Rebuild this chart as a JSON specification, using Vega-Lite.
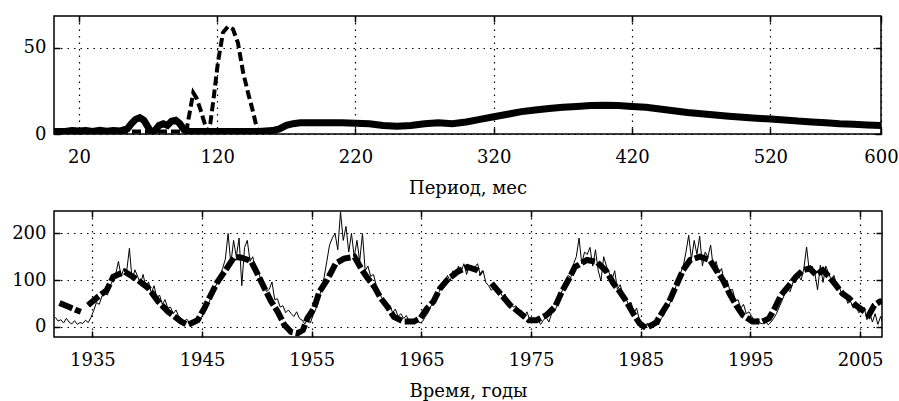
{
  "$schema": "https://vega.github.io/schema/vega-lite/v6.json",
  "background": "white",
  "padding": {"left": 10, "top": 14, "right": 10, "bottom": 5},
  "spacing": 11,
  "datasets": {
    "spec_solid": [
      {"p": 2, "v": 1.5}, {"p": 10, "v": 1.5}, {"p": 15, "v": 2}, {"p": 20, "v": 1.8}, {"p": 25, "v": 2}, {"p": 30, "v": 1.5}, {"p": 35, "v": 2.2}, {"p": 40, "v": 1.6}, {"p": 45, "v": 2}, {"p": 50, "v": 1.8}, {"p": 55, "v": 3}, {"p": 58, "v": 6}, {"p": 61, "v": 8.5}, {"p": 64, "v": 9.5}, {"p": 67, "v": 8}, {"p": 70, "v": 4}, {"p": 72, "v": 1.5}, {"p": 75, "v": 2}, {"p": 78, "v": 5}, {"p": 81, "v": 6}, {"p": 84, "v": 5}, {"p": 87, "v": 7.5}, {"p": 90, "v": 8}, {"p": 93, "v": 6}, {"p": 96, "v": 2.5}, {"p": 100, "v": 1.5}, {"p": 110, "v": 1.5}, {"p": 120, "v": 1.5}, {"p": 130, "v": 1.5}, {"p": 140, "v": 1.5}, {"p": 150, "v": 1.5}, {"p": 160, "v": 2}, {"p": 165, "v": 3}, {"p": 170, "v": 5}, {"p": 175, "v": 6}, {"p": 180, "v": 6.5}, {"p": 190, "v": 6.5}, {"p": 200, "v": 6.5}, {"p": 210, "v": 6.5}, {"p": 220, "v": 6.3}, {"p": 230, "v": 6}, {"p": 240, "v": 5}, {"p": 250, "v": 4.5}, {"p": 260, "v": 5}, {"p": 270, "v": 6}, {"p": 280, "v": 6.5}, {"p": 290, "v": 6}, {"p": 300, "v": 7}, {"p": 310, "v": 8.5}, {"p": 320, "v": 10}, {"p": 330, "v": 11.5}, {"p": 340, "v": 13}, {"p": 350, "v": 14}, {"p": 360, "v": 14.8}, {"p": 370, "v": 15.5}, {"p": 380, "v": 16}, {"p": 390, "v": 16.5}, {"p": 400, "v": 16.7}, {"p": 410, "v": 16.5}, {"p": 420, "v": 16}, {"p": 430, "v": 15.5}, {"p": 440, "v": 14.5}, {"p": 450, "v": 13.5}, {"p": 460, "v": 12.5}, {"p": 470, "v": 11.8}, {"p": 480, "v": 11}, {"p": 490, "v": 10.3}, {"p": 500, "v": 9.7}, {"p": 510, "v": 9.2}, {"p": 520, "v": 8.7}, {"p": 530, "v": 8.2}, {"p": 540, "v": 7.5}, {"p": 550, "v": 7}, {"p": 560, "v": 6.5}, {"p": 570, "v": 6}, {"p": 580, "v": 5.7}, {"p": 590, "v": 5.3}, {"p": 600, "v": 5}
    ],
    "spec_dash": [
      {"p": 2, "v": 1}, {"p": 20, "v": 1}, {"p": 40, "v": 1}, {"p": 60, "v": 1.5}, {"p": 80, "v": 1.5}, {"p": 95, "v": 1.5}, {"p": 98, "v": 3}, {"p": 100, "v": 12}, {"p": 102.7, "v": 24}, {"p": 105, "v": 21}, {"p": 108, "v": 14}, {"p": 111, "v": 6}, {"p": 113, "v": 1}, {"p": 115, "v": 6}, {"p": 117, "v": 18}, {"p": 120.6, "v": 42}, {"p": 124.2, "v": 59}, {"p": 127.8, "v": 62.5}, {"p": 131.4, "v": 61}, {"p": 135, "v": 53}, {"p": 138.7, "v": 36}, {"p": 142.3, "v": 24}, {"p": 145.9, "v": 13}, {"p": 148.8, "v": 3}, {"p": 151, "v": 1}, {"p": 160, "v": 0.5}
    ],
    "ts_thin": [
      {"t": 1931.625, "v": 20}, {"t": 1931.875, "v": 12},
      {"t": 1932.125, "v": 15}, {"t": 1932.375, "v": 8}, {"t": 1932.625, "v": 18}, {"t": 1932.875, "v": 10},
      {"t": 1933.125, "v": 6}, {"t": 1933.375, "v": 13}, {"t": 1933.625, "v": 5}, {"t": 1933.875, "v": 9},
      {"t": 1934.125, "v": 7}, {"t": 1934.375, "v": 14}, {"t": 1934.625, "v": 9}, {"t": 1934.875, "v": 20},
      {"t": 1935.125, "v": 35}, {"t": 1935.375, "v": 52}, {"t": 1935.625, "v": 48}, {"t": 1935.875, "v": 66},
      {"t": 1936.125, "v": 72}, {"t": 1936.375, "v": 68}, {"t": 1936.625, "v": 88}, {"t": 1936.875, "v": 100},
      {"t": 1937.125, "v": 112}, {"t": 1937.375, "v": 140}, {"t": 1937.625, "v": 108}, {"t": 1937.875, "v": 125},
      {"t": 1938.125, "v": 118}, {"t": 1938.375, "v": 168}, {"t": 1938.625, "v": 100}, {"t": 1938.875, "v": 122},
      {"t": 1939.125, "v": 108}, {"t": 1939.375, "v": 92}, {"t": 1939.625, "v": 112}, {"t": 1939.875, "v": 85},
      {"t": 1940.125, "v": 96}, {"t": 1940.375, "v": 72}, {"t": 1940.625, "v": 88}, {"t": 1940.875, "v": 62},
      {"t": 1941.125, "v": 68}, {"t": 1941.375, "v": 48}, {"t": 1941.625, "v": 58}, {"t": 1941.875, "v": 40},
      {"t": 1942.125, "v": 42}, {"t": 1942.375, "v": 28}, {"t": 1942.625, "v": 36}, {"t": 1942.875, "v": 22},
      {"t": 1943.125, "v": 18}, {"t": 1943.375, "v": 12}, {"t": 1943.625, "v": 16}, {"t": 1943.875, "v": 8},
      {"t": 1944.125, "v": 6}, {"t": 1944.375, "v": 12}, {"t": 1944.625, "v": 9}, {"t": 1944.875, "v": 18},
      {"t": 1945.125, "v": 28}, {"t": 1945.375, "v": 40}, {"t": 1945.625, "v": 52}, {"t": 1945.875, "v": 66},
      {"t": 1946.125, "v": 80}, {"t": 1946.375, "v": 95}, {"t": 1946.625, "v": 108}, {"t": 1946.875, "v": 125},
      {"t": 1947.125, "v": 145}, {"t": 1947.375, "v": 200}, {"t": 1947.625, "v": 135}, {"t": 1947.875, "v": 185},
      {"t": 1948.125, "v": 150}, {"t": 1948.375, "v": 190}, {"t": 1948.625, "v": 88}, {"t": 1948.875, "v": 170},
      {"t": 1949.125, "v": 185}, {"t": 1949.375, "v": 140}, {"t": 1949.625, "v": 150}, {"t": 1949.875, "v": 120},
      {"t": 1950.125, "v": 118}, {"t": 1950.375, "v": 100}, {"t": 1950.625, "v": 90}, {"t": 1950.875, "v": 75},
      {"t": 1951.125, "v": 80}, {"t": 1951.375, "v": 96}, {"t": 1951.625, "v": 58}, {"t": 1951.875, "v": 60},
      {"t": 1952.125, "v": 42}, {"t": 1952.375, "v": 45}, {"t": 1952.625, "v": 30}, {"t": 1952.875, "v": 36},
      {"t": 1953.125, "v": 28}, {"t": 1953.375, "v": 22}, {"t": 1953.625, "v": 32}, {"t": 1953.875, "v": 18},
      {"t": 1954.125, "v": 14}, {"t": 1954.375, "v": 6}, {"t": 1954.625, "v": 16}, {"t": 1954.875, "v": 8},
      {"t": 1955.125, "v": 25}, {"t": 1955.375, "v": 38}, {"t": 1955.625, "v": 60}, {"t": 1955.875, "v": 80},
      {"t": 1956.125, "v": 105}, {"t": 1956.375, "v": 140}, {"t": 1956.625, "v": 175}, {"t": 1956.875, "v": 190},
      {"t": 1957.125, "v": 200}, {"t": 1957.375, "v": 165}, {"t": 1957.625, "v": 246}, {"t": 1957.875, "v": 185},
      {"t": 1958.125, "v": 215}, {"t": 1958.375, "v": 160}, {"t": 1958.625, "v": 200}, {"t": 1958.875, "v": 150},
      {"t": 1959.125, "v": 185}, {"t": 1959.375, "v": 140}, {"t": 1959.625, "v": 200}, {"t": 1959.875, "v": 120},
      {"t": 1960.125, "v": 130}, {"t": 1960.375, "v": 108}, {"t": 1960.625, "v": 112}, {"t": 1960.875, "v": 90},
      {"t": 1961.125, "v": 75}, {"t": 1961.375, "v": 62}, {"t": 1961.625, "v": 55}, {"t": 1961.875, "v": 42},
      {"t": 1962.125, "v": 46}, {"t": 1962.375, "v": 30}, {"t": 1962.625, "v": 38}, {"t": 1962.875, "v": 22},
      {"t": 1963.125, "v": 28}, {"t": 1963.375, "v": 18}, {"t": 1963.625, "v": 24}, {"t": 1963.875, "v": 12},
      {"t": 1964.125, "v": 10}, {"t": 1964.375, "v": 6}, {"t": 1964.625, "v": 14}, {"t": 1964.875, "v": 8},
      {"t": 1965.125, "v": 12}, {"t": 1965.375, "v": 22}, {"t": 1965.625, "v": 30}, {"t": 1965.875, "v": 45},
      {"t": 1966.125, "v": 50}, {"t": 1966.375, "v": 62}, {"t": 1966.625, "v": 75}, {"t": 1966.875, "v": 90},
      {"t": 1967.125, "v": 88}, {"t": 1967.375, "v": 110}, {"t": 1967.625, "v": 98}, {"t": 1967.875, "v": 120},
      {"t": 1968.125, "v": 108}, {"t": 1968.375, "v": 130}, {"t": 1968.625, "v": 118}, {"t": 1968.875, "v": 135},
      {"t": 1969.125, "v": 112}, {"t": 1969.375, "v": 132}, {"t": 1969.625, "v": 120}, {"t": 1969.875, "v": 128},
      {"t": 1970.125, "v": 135}, {"t": 1970.375, "v": 110}, {"t": 1970.625, "v": 120}, {"t": 1970.875, "v": 95},
      {"t": 1971.125, "v": 88}, {"t": 1971.375, "v": 78}, {"t": 1971.625, "v": 85}, {"t": 1971.875, "v": 72},
      {"t": 1972.125, "v": 80}, {"t": 1972.375, "v": 65}, {"t": 1972.625, "v": 70}, {"t": 1972.875, "v": 55},
      {"t": 1973.125, "v": 50}, {"t": 1973.375, "v": 42}, {"t": 1973.625, "v": 45}, {"t": 1973.875, "v": 30},
      {"t": 1974.125, "v": 35}, {"t": 1974.375, "v": 22}, {"t": 1974.625, "v": 32}, {"t": 1974.875, "v": 15},
      {"t": 1975.125, "v": 18}, {"t": 1975.375, "v": 8}, {"t": 1975.625, "v": 15}, {"t": 1975.875, "v": 5},
      {"t": 1976.125, "v": 14}, {"t": 1976.375, "v": 20}, {"t": 1976.625, "v": 10}, {"t": 1976.875, "v": 28},
      {"t": 1977.125, "v": 32}, {"t": 1977.375, "v": 45}, {"t": 1977.625, "v": 62}, {"t": 1977.875, "v": 80},
      {"t": 1978.125, "v": 90}, {"t": 1978.375, "v": 110}, {"t": 1978.625, "v": 105}, {"t": 1978.875, "v": 135},
      {"t": 1979.125, "v": 150}, {"t": 1979.375, "v": 190}, {"t": 1979.625, "v": 135}, {"t": 1979.875, "v": 160},
      {"t": 1980.125, "v": 155}, {"t": 1980.375, "v": 170}, {"t": 1980.625, "v": 130}, {"t": 1980.875, "v": 165},
      {"t": 1981.125, "v": 120}, {"t": 1981.375, "v": 98}, {"t": 1981.625, "v": 150}, {"t": 1981.875, "v": 130},
      {"t": 1982.125, "v": 115}, {"t": 1982.375, "v": 100}, {"t": 1982.625, "v": 120}, {"t": 1982.875, "v": 80},
      {"t": 1983.125, "v": 90}, {"t": 1983.375, "v": 70}, {"t": 1983.625, "v": 62}, {"t": 1983.875, "v": 48},
      {"t": 1984.125, "v": 52}, {"t": 1984.375, "v": 30}, {"t": 1984.625, "v": 40}, {"t": 1984.875, "v": 15},
      {"t": 1985.125, "v": 10}, {"t": 1985.375, "v": 2}, {"t": 1985.625, "v": 8}, {"t": 1985.875, "v": -2},
      {"t": 1986.125, "v": 5}, {"t": 1986.375, "v": 12}, {"t": 1986.625, "v": 4}, {"t": 1986.875, "v": 18},
      {"t": 1987.125, "v": 25}, {"t": 1987.375, "v": 40}, {"t": 1987.625, "v": 48}, {"t": 1987.875, "v": 65},
      {"t": 1988.125, "v": 80}, {"t": 1988.375, "v": 100}, {"t": 1988.625, "v": 115}, {"t": 1988.875, "v": 130},
      {"t": 1989.125, "v": 160}, {"t": 1989.375, "v": 196}, {"t": 1989.625, "v": 145}, {"t": 1989.875, "v": 185},
      {"t": 1990.125, "v": 155}, {"t": 1990.375, "v": 194}, {"t": 1990.625, "v": 130}, {"t": 1990.875, "v": 160},
      {"t": 1991.125, "v": 150}, {"t": 1991.375, "v": 175}, {"t": 1991.625, "v": 125}, {"t": 1991.875, "v": 140},
      {"t": 1992.125, "v": 115}, {"t": 1992.375, "v": 125}, {"t": 1992.625, "v": 95}, {"t": 1992.875, "v": 100},
      {"t": 1993.125, "v": 78}, {"t": 1993.375, "v": 80}, {"t": 1993.625, "v": 55}, {"t": 1993.875, "v": 58},
      {"t": 1994.125, "v": 40}, {"t": 1994.375, "v": 48}, {"t": 1994.625, "v": 28}, {"t": 1994.875, "v": 32},
      {"t": 1995.125, "v": 22}, {"t": 1995.375, "v": 12}, {"t": 1995.625, "v": 18}, {"t": 1995.875, "v": 8},
      {"t": 1996.125, "v": 6}, {"t": 1996.375, "v": 12}, {"t": 1996.625, "v": 4}, {"t": 1996.875, "v": 10},
      {"t": 1997.125, "v": 18}, {"t": 1997.375, "v": 28}, {"t": 1997.625, "v": 42}, {"t": 1997.875, "v": 55},
      {"t": 1998.125, "v": 70}, {"t": 1998.375, "v": 80}, {"t": 1998.625, "v": 75}, {"t": 1998.875, "v": 95},
      {"t": 1999.125, "v": 95}, {"t": 1999.375, "v": 110}, {"t": 1999.625, "v": 100}, {"t": 1999.875, "v": 125},
      {"t": 2000.125, "v": 171}, {"t": 2000.375, "v": 118}, {"t": 2000.625, "v": 130}, {"t": 2000.875, "v": 115},
      {"t": 2001.125, "v": 79}, {"t": 2001.375, "v": 132}, {"t": 2001.625, "v": 95}, {"t": 2001.875, "v": 130},
      {"t": 2002.125, "v": 115}, {"t": 2002.375, "v": 100}, {"t": 2002.625, "v": 110}, {"t": 2002.875, "v": 88},
      {"t": 2003.125, "v": 85}, {"t": 2003.375, "v": 65}, {"t": 2003.625, "v": 72}, {"t": 2003.875, "v": 50},
      {"t": 2004.125, "v": 55}, {"t": 2004.375, "v": 40}, {"t": 2004.625, "v": 45}, {"t": 2004.875, "v": 30},
      {"t": 2005.125, "v": 35}, {"t": 2005.375, "v": 42}, {"t": 2005.625, "v": 15}, {"t": 2005.875, "v": 30},
      {"t": 2006.125, "v": 10}, {"t": 2006.375, "v": 28}, {"t": 2006.625, "v": 5}, {"t": 2006.875, "v": 22},
      {"t": 2007.0, "v": 12}
    ],
    "ts_dash": [
      {"t": 1932.0, "v": 51, "s": 1}, {"t": 1932.5, "v": 46, "s": 1}, {"t": 1933.0, "v": 41, "s": 1}, {"t": 1933.5, "v": 36, "s": 1}, {"t": 1933.95, "v": 32, "s": 1},
      {"t": 1934.6, "v": 46, "s": 2}, {"t": 1935.5, "v": 64, "s": 2}, {"t": 1936.3, "v": 78, "s": 2}, {"t": 1936.9, "v": 107, "s": 2}, {"t": 1937.95, "v": 118, "s": 2}, {"t": 1938.9, "v": 104, "s": 2}, {"t": 1940.1, "v": 83, "s": 2}, {"t": 1941.0, "v": 54, "s": 2}, {"t": 1941.9, "v": 32, "s": 2}, {"t": 1943.1, "v": 11, "s": 2}, {"t": 1943.7, "v": 4, "s": 2}, {"t": 1944.6, "v": 14, "s": 2}, {"t": 1945.2, "v": 39, "s": 2}, {"t": 1945.8, "v": 68, "s": 2}, {"t": 1946.4, "v": 96, "s": 2}, {"t": 1947.05, "v": 118, "s": 2}, {"t": 1947.95, "v": 150, "s": 2}, {"t": 1948.6, "v": 148, "s": 2}, {"t": 1949.2, "v": 143, "s": 2}, {"t": 1949.5, "v": 139, "s": 2}, {"t": 1950.1, "v": 111, "s": 2}, {"t": 1950.7, "v": 82, "s": 2}, {"t": 1951.3, "v": 54, "s": 2}, {"t": 1951.9, "v": 32, "s": 2}, {"t": 1952.5, "v": 4, "s": 2}, {"t": 1953.1, "v": -11, "s": 2}, {"t": 1953.7, "v": -14, "s": 2}, {"t": 1954.2, "v": -7, "s": 2}, {"t": 1954.6, "v": 18, "s": 2}, {"t": 1955.2, "v": 39, "s": 2}, {"t": 1955.7, "v": 75, "s": 2}, {"t": 1956.4, "v": 100, "s": 2}, {"t": 1957.2, "v": 136, "s": 2}, {"t": 1957.95, "v": 146, "s": 2}, {"t": 1958.9, "v": 150, "s": 2}, {"t": 1959.6, "v": 121, "s": 2}, {"t": 1960.1, "v": 104, "s": 2}, {"t": 1960.7, "v": 86, "s": 2}, {"t": 1961.3, "v": 61, "s": 2}, {"t": 1961.9, "v": 43, "s": 2}, {"t": 1962.5, "v": 21, "s": 2}, {"t": 1963.4, "v": 11, "s": 2}, {"t": 1964.3, "v": 11, "s": 2}, {"t": 1964.9, "v": 18, "s": 2}, {"t": 1965.5, "v": 39, "s": 2}, {"t": 1966.1, "v": 54, "s": 2}, {"t": 1966.7, "v": 82, "s": 2}, {"t": 1967.35, "v": 100, "s": 2}, {"t": 1968.3, "v": 118, "s": 2}, {"t": 1969.2, "v": 128, "s": 2}, {"t": 1970.1, "v": 121, "s": 2}, {"t": 1970.5, "v": 114, "s": 2},
      {"t": 1971.4, "v": 93, "s": 3}, {"t": 1972.2, "v": 71, "s": 3}, {"t": 1973.1, "v": 46, "s": 3}, {"t": 1974.0, "v": 29, "s": 3}, {"t": 1974.8, "v": 14, "s": 3}, {"t": 1975.5, "v": 14, "s": 3}, {"t": 1976.4, "v": 25, "s": 3}, {"t": 1977.2, "v": 43, "s": 3}, {"t": 1977.8, "v": 75, "s": 3}, {"t": 1978.4, "v": 100, "s": 3}, {"t": 1979.0, "v": 128, "s": 3}, {"t": 1980.1, "v": 143, "s": 3}, {"t": 1981.0, "v": 139, "s": 3}, {"t": 1981.9, "v": 118, "s": 3}, {"t": 1982.5, "v": 93, "s": 3}, {"t": 1983.1, "v": 75, "s": 3}, {"t": 1983.7, "v": 54, "s": 3}, {"t": 1984.3, "v": 29, "s": 3}, {"t": 1984.9, "v": 7, "s": 3}, {"t": 1985.5, "v": -3, "s": 3}, {"t": 1986.4, "v": 9, "s": 3}, {"t": 1987.0, "v": 32, "s": 3}, {"t": 1987.6, "v": 54, "s": 3}, {"t": 1988.25, "v": 89, "s": 3}, {"t": 1988.85, "v": 121, "s": 3}, {"t": 1989.5, "v": 143, "s": 3}, {"t": 1990.4, "v": 150, "s": 3}, {"t": 1991.3, "v": 143, "s": 3}, {"t": 1991.9, "v": 121, "s": 3}, {"t": 1992.5, "v": 100, "s": 3}, {"t": 1993.1, "v": 71, "s": 3}, {"t": 1993.7, "v": 46, "s": 3}, {"t": 1994.3, "v": 25, "s": 3}, {"t": 1995.2, "v": 11, "s": 3}, {"t": 1996.1, "v": 11, "s": 3}, {"t": 1996.7, "v": 18, "s": 3}, {"t": 1997.2, "v": 39, "s": 3}, {"t": 1997.8, "v": 68, "s": 3}, {"t": 1998.55, "v": 89, "s": 3}, {"t": 1999.15, "v": 107, "s": 3}, {"t": 1999.8, "v": 121, "s": 3}, {"t": 2000.4, "v": 125, "s": 3}, {"t": 2001.0, "v": 111, "s": 3}, {"t": 2001.6, "v": 121, "s": 3}, {"t": 2002.2, "v": 107, "s": 3}, {"t": 2002.8, "v": 89, "s": 3}, {"t": 2003.4, "v": 71, "s": 3}, {"t": 2004.0, "v": 61, "s": 3}, {"t": 2004.6, "v": 46, "s": 3}, {"t": 2005.2, "v": 36, "s": 3}, {"t": 2005.8, "v": 25, "s": 3}, {"t": 2006.3, "v": 46, "s": 3}, {"t": 2006.8, "v": 54, "s": 3}, {"t": 2007.0, "v": 55, "s": 3}
    ]
  },
  "vconcat": [
    {
      "width": 827,
      "height": 118,
      "layer": [
        {
          "data": {"name": "spec_solid"},
          "mark": {"type": "line", "color": "black", "strokeWidth": 7, "strokeCap": "butt", "clip": true},
          "encoding": {
            "x": {"field": "p", "type": "quantitative", "scale": {"domain": [2, 600], "nice": false, "zero": false},
                  "axis": {"orient": "bottom", "values": [20, 120, 220, 320, 420, 520, 600], "title": "Период, мес", "grid": true, "labelFlush": false}},
            "y": {"field": "v", "type": "quantitative", "scale": {"domain": [0, 68.6], "nice": false},
                  "axis": {"orient": "left", "values": [0, 50], "title": null, "grid": true}}
          }
        },
        {
          "data": {"name": "spec_dash"},
          "mark": {"type": "line", "color": "black", "strokeWidth": 4, "strokeDash": [9, 4], "clip": true},
          "encoding": {
            "x": {"field": "p", "type": "quantitative",
                  "axis": {"orient": "top", "values": [20, 120, 220, 320, 420, 520, 600], "title": null, "labels": false, "grid": false}},
            "y": {"field": "v", "type": "quantitative",
                  "axis": {"orient": "right", "values": [0, 50], "title": null, "labels": false, "grid": false}}
          }
        }
      ],
      "resolve": {"axis": {"x": "independent", "y": "independent"}}
    },
    {
      "width": 828,
      "height": 126,
      "layer": [
        {
          "data": {"name": "ts_thin"},
          "mark": {"type": "line", "color": "black", "strokeWidth": 1, "clip": true},
          "encoding": {
            "x": {"field": "t", "type": "quantitative", "scale": {"domain": [1931.5, 2007], "nice": false, "zero": false},
                  "axis": {"orient": "bottom", "values": [1935, 1945, 1955, 1965, 1975, 1985, 1995, 2005], "format": "d", "title": "Время, годы", "grid": true, "labelFlush": false}},
            "y": {"field": "v", "type": "quantitative", "scale": {"domain": [-22, 248], "nice": false, "zero": false},
                  "axis": {"orient": "left", "values": [0, 100, 200], "title": null, "grid": true}}
          }
        },
        {
          "data": {"name": "ts_dash"},
          "mark": {"type": "line", "color": "black", "strokeWidth": 6, "strokeDash": [14, 3], "clip": true},
          "encoding": {
            "x": {"field": "t", "type": "quantitative",
                  "axis": {"orient": "top", "values": [1935, 1945, 1955, 1965, 1975, 1985, 1995, 2005], "title": null, "labels": false, "grid": false}},
            "y": {"field": "v", "type": "quantitative",
                  "axis": {"orient": "right", "values": [0, 100, 200], "title": null, "labels": false, "grid": false}},
            "detail": {"field": "s", "type": "nominal"}
          }
        }
      ],
      "resolve": {"axis": {"x": "independent", "y": "independent"}}
    }
  ],
  "config": {
    "view": {"stroke": "black", "strokeWidth": 1.5},
    "axis": {
      "labelFont": "DejaVu Serif", "labelFontSize": 18, "labelColor": "black",
      "titleFont": "DejaVu Serif", "titleFontSize": 18, "titleFontWeight": "normal", "titleColor": "black",
      "domain": false, "ticks": true, "tickColor": "black", "tickSize": -6, "tickWidth": 1.5,
      "titlePadding": 13,
      "gridColor": "black", "gridDash": [1.5, 5], "gridOpacity": 1, "gridWidth": 1.2
    },
    "axisX": {"labelPadding": 20},
    "axisY": {"labelPadding": 14}
  }
}
